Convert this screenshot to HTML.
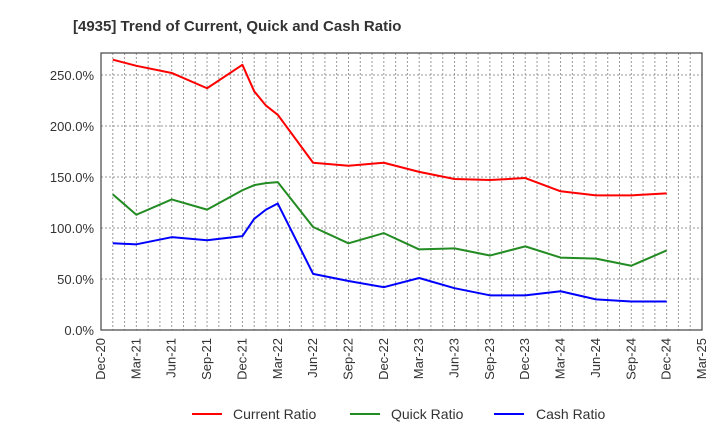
<!DOCTYPE html>
<html><head><meta charset="utf-8"><style>
body{margin:0;background:#fff;}
svg{display:block;font-family:"Liberation Sans",sans-serif;}
</style></head><body>
<svg id="chart" width="720" height="440" viewBox="0 0 720 440">
<text x="73" y="31" font-size="15" font-weight="bold" fill="#333">[4935]  Trend of Current, Quick and Cash Ratio</text>
<g id="grid"></g>
<g id="series"></g>
<rect x="101" y="53" width="601" height="277" fill="none" stroke="#444" stroke-width="1.2"/>
<g id="axes"></g>
<g>
<g><line x1="192" y1="414" x2="222" y2="414" stroke="#f00" stroke-width="2"/><text x="233" y="419" font-size="14" fill="#333">Current Ratio</text></g>
<g><line x1="350" y1="414" x2="380" y2="414" stroke="#228b22" stroke-width="2"/><text x="391" y="419" font-size="14" fill="#333">Quick Ratio</text></g>
<g><line x1="494" y1="414" x2="524" y2="414" stroke="#00f" stroke-width="2"/><text x="536" y="419" font-size="14" fill="#333">Cash Ratio</text></g>
</g>
</svg>
<script>
const months = [1,3,6,9,12,13,14,15,18,21,24,27,30,33,36,39,42,45,48];
const currentRatio = [265,259,252,237,260,234,220,211,164,161,164,155,148,147,149,136,132,132,134];
const quickRatio = [133,113,128,118,137,142,144,145,101,85,95,79,80,73,82,71,70,63,78];
const cashRatio = [85,84,91,88,92,109,118,124,55,48,42,51,41,34,34,38,30,28,28];
const yTicks = [0,50,100,150,200,250];
const xTickLabels = ["Dec-20","Mar-21","Jun-21","Sep-21","Dec-21","Mar-22","Jun-22","Sep-22","Dec-22","Mar-23","Jun-23","Sep-23","Dec-23","Mar-24","Jun-24","Sep-24","Dec-24","Mar-25"];

const L=101,R=702,T=53,B=330,MMAX=51;
function xs(m){return L+(R-L)*m/MMAX;}
function ys(v){return B-v*1.02;}
const NS="http://www.w3.org/2000/svg";
function mk(tag,attrs,parent){const e=document.createElementNS(NS,tag);for(const k in attrs)e.setAttribute(k,attrs[k]);parent.appendChild(e);return e;}
const grid=document.getElementById('grid'),axes=document.getElementById('axes'),series=document.getElementById('series');
for(let m=1;m<MMAX;m++){
  const l=mk('line',{x1:xs(m),x2:xs(m),y1:T,y2:B,stroke:'#999','stroke-dasharray':'2,2','stroke-width':1},grid);
  
  
}
yTicks.forEach(v=>{
  if(v>0){const l=mk('line',{x1:L,x2:R,y1:ys(v),y2:ys(v),stroke:'#999','stroke-dasharray':'2,2','stroke-width':1},grid);
  
  }
  const t=mk('text',{x:L-7,y:ys(v)+5,'text-anchor':'end','font-size':13,fill:'#333'},axes);
  t.textContent=v.toFixed(1)+'%';
  
  
});
xTickLabels.forEach((s,i)=>{
  const x=xs(i*3);
  const t=mk('text',{x:x+4,y:B+8,'text-anchor':'end','font-size':13,fill:'#333',transform:`rotate(-90 ${x+4} ${B+8})`},axes);
  t.textContent=s;
  
  
});
function draw(vals,color,name){
  const p=mk('polyline',{points:vals.map((v,i)=>xs(months[i])+','+ys(v)).join(' '),fill:'none',stroke:color,'stroke-width':2,'stroke-linejoin':'round'},series);
  
  
}
draw(currentRatio,'#f00','current-ratio-line');
draw(quickRatio,'#228b22','quick-ratio-line');
draw(cashRatio,'#00f','cash-ratio-line');
</script>
</body></html>
